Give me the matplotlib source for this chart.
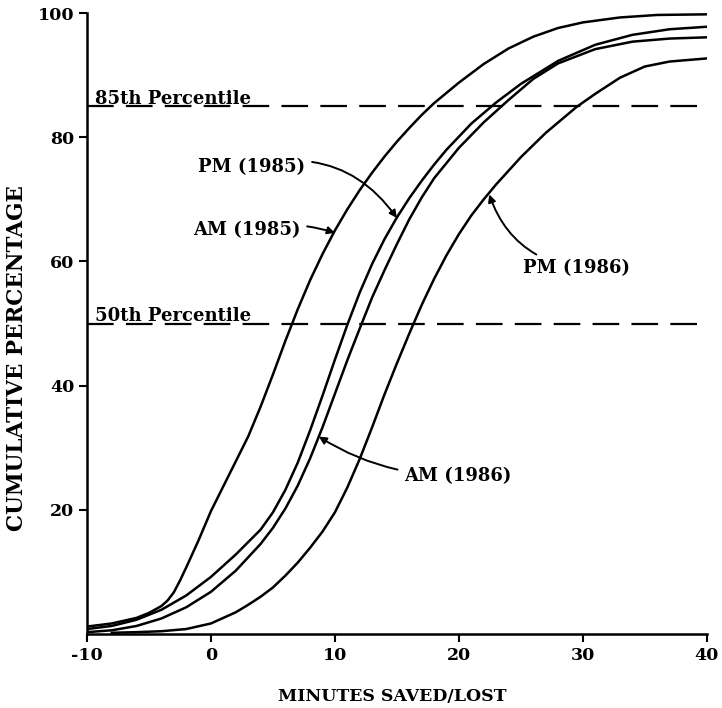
import numpy as np
import matplotlib.pyplot as plt

plt.rcParams['font.family'] = 'DejaVu Serif'
plt.rcParams['font.weight'] = 'bold'
plt.rcParams['axes.unicode_minus'] = False

# cumulative percentage curves (minutes saved/lost)
am85_x = [-10, -8, -6, -5, -4, -3.5, -3, -2.5, -2, -1, 0, 1, 2, 3, 4, 5, 6, 7, 8, 9, 10, 11, 12, 13, 14, 15,
          16, 17, 18, 20, 22, 24, 26, 28, 30, 33, 36, 40]
am85_y = [1.2, 1.7, 2.6, 3.4, 4.5, 5.4, 6.7, 8.6, 10.7, 15.1, 19.8, 23.8, 27.8, 31.8, 36.6, 41.8, 47.2, 52.3,
          57.0, 61.2, 65.0, 68.4, 71.5, 74.3, 76.9, 79.3, 81.5, 83.6, 85.5, 88.8, 91.8, 94.3, 96.2, 97.6, 98.5,
          99.3, 99.7, 99.8]

pm85_x = [-10, -8, -6, -4, -2, 0, 2, 4, 5, 6, 7, 8, 9, 10, 11, 12, 13, 14, 15, 16, 17, 18, 19, 21, 23, 25, 28,
          31, 34, 37, 40]
pm85_y = [0.8, 1.3, 2.3, 3.9, 6.2, 9.2, 12.8, 16.8, 19.6, 23.2, 27.6, 32.8, 38.4, 44.2, 49.8, 55.0, 59.6, 63.6,
          67.1, 70.2, 73.0, 75.6, 78.0, 82.2, 85.6, 88.6, 92.3, 94.9, 96.5, 97.4, 97.8]

am86_x = [-10, -8, -6, -4, -2, 0, 2, 4, 5, 6, 7, 8, 9, 10, 11, 12, 13, 14, 15, 16, 17, 18, 20, 22, 24, 26, 28,
          31, 34, 37, 40]
am86_y = [0.3, 0.6, 1.3, 2.5, 4.3, 6.8, 10.2, 14.5, 17.1, 20.2, 23.9, 28.3, 33.3, 38.7, 44.1, 49.2, 54.2, 58.6,
          62.8, 66.8, 70.3, 73.4, 78.3, 82.4, 86.0, 89.4, 91.9, 94.2, 95.4, 95.9, 96.1]

pm86_x = [-8, -6, -4, -2, 0, 1, 2, 3, 4, 5, 6, 7, 8, 9, 10, 11, 12, 13, 14, 15, 16, 17, 18, 19, 20, 21, 22, 23,
          25, 27, 29.5, 31, 33, 35, 37, 40]
pm86_y = [0.2, 0.3, 0.45, 0.8, 1.7, 2.6, 3.5, 4.7, 6.0, 7.5, 9.4, 11.5, 13.9, 16.5, 19.6, 23.6, 28.2, 33.3,
          38.6, 43.6, 48.4, 53.0, 57.2, 61.0, 64.4, 67.4, 70.0, 72.4, 76.8, 80.7, 84.9, 87.0, 89.6, 91.4, 92.2,
          92.7]

percentiles = [85, 50]
percentile_labels = ['85th Percentile', '50th Percentile']

fig = plt.figure(figsize=(7.22, 7.08), dpi=100)
ax = fig.add_axes([0.1205, 0.1045, 0.8585, 0.877])

for xs, ys in [(am85_x, am85_y), (pm85_x, pm85_y), (am86_x, am86_y), (pm86_x, pm86_y)]:
    ax.plot(xs, ys, color='black', lw=1.8, solid_joinstyle='round')

for p, lab in zip(percentiles, percentile_labels):
    ax.plot([-10, 40], [p, p], color='black', lw=1.6, dashes=(12, 5.5))
    ax.text(-9.35, p + 0.35, lab, fontsize=13, ha='left', va='baseline')

arrow = dict(arrowstyle='-|>', color='black', lw=1.4, mutation_scale=11, shrinkA=3, shrinkB=0)
ax.annotate('PM (1985)', xy=(15.0, 67.0), xytext=(7.6, 75.2), fontsize=13, ha='right', va='center',
            arrowprops=dict(arrow, connectionstyle='arc3,rad=-0.35'))
ax.annotate('AM (1985)', xy=(10.0, 64.6), xytext=(7.2, 65.0), fontsize=13, ha='right', va='center',
            arrowprops=dict(arrow, connectionstyle='arc3,rad=-0.15'))
ax.annotate('PM (1986)', xy=(22.45, 70.8), xytext=(25.2, 58.9), fontsize=13, ha='left', va='center',
            arrowprops=dict(arrow, connectionstyle='arc3,rad=-0.3'))
ax.annotate('AM (1986)', xy=(8.7, 31.8), xytext=(15.6, 25.5), fontsize=13, ha='left', va='center',
            arrowprops=dict(arrow, connectionstyle='arc3,rad=-0.15'))

ax.set_xlim(-10, 40)
ax.set_ylim(0, 100)
ax.set_xticks([-10, 0, 10, 20, 30, 40])
ax.set_yticks([20, 40, 60, 80, 100])
ax.spines['top'].set_visible(False)
ax.spines['right'].set_visible(False)
ax.spines['left'].set_linewidth(1.8)
ax.spines['bottom'].set_linewidth(1.8)
ax.tick_params(direction='out', length=6, width=1.5, labelsize=12.5, pad=3)
for lbl in ax.get_xticklabels() + ax.get_yticklabels():
    lbl.set_fontweight('bold')

ax.set_xlabel('MINUTES SAVED/LOST', fontsize=12.5, fontweight='bold')
ax.xaxis.set_label_coords(0.492, -0.087)
ax.set_ylabel('CUMULATIVE PERCENTAGE', fontsize=15.5, fontweight='bold')
ax.yaxis.set_label_coords(-0.095, 0.444)

fig.savefig('out.png', dpi=100)
